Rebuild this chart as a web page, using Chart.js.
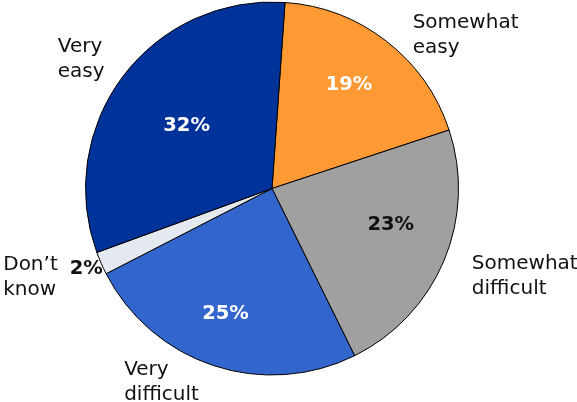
<!DOCTYPE html>
<html>
<head>
<meta charset="utf-8">
<script src="https://cdn.jsdelivr.net/npm/chart.js@4"></script>
<style>
  html, body { margin: 0; padding: 0; background: #fff; }
  #wrap { width: 577px; height: 402px; position: relative; }
</style>
</head>
<body>
<div id="wrap"><canvas id="pie"></canvas></div>
<script>
// data, clockwise from the top
const categories = ["Somewhat easy", "Somewhat difficult", "Very difficult", "Don\u2019t know", "Very easy"];
const labelLines = [["Somewhat", "easy"], ["Somewhat", "difficult"], ["Very", "difficult"], ["Don\u2019t", "know"], ["Very", "easy"]];
const shares = [19, 23, 25, 2, 32];

const sliceColors = ["#FF9933", "#A0A0A0", "#3366CC", "#E4E9F0", "#003399"];
const pctColors = ["#ffffff", "#111111", "#ffffff", "#111111", "#ffffff"];

// label layout tweaks, like dragging labels by hand in the original
const labelStyle = {
    pctRadius: [0.69, 0.65, 0.71, 0, 0.58], // 0 = put it outside
    pctNudge: [[-2, -2], [7, -10], [-5, 0], [-2, 0], [1, 2]],
    nameNudge: [[9, 8], [2, 9], [-6, 0], [-3, -2], [4, -6]]
};

// draws the percentages and the category names around the pie
const sliceLabels = {
    id: "sliceLabels",
    afterDatasetsDraw(chart) {
        const ctx = chart.ctx;
        const arcs = chart.getDatasetMeta(0).data;
        ctx.save();
        ctx.textBaseline = "middle";
        arcs.forEach((arc, i) => {
            const { x, y, startAngle, endAngle, outerRadius } = arc.getProps(["x", "y", "startAngle", "endAngle", "outerRadius"], true);
            const mid = (startAngle + endAngle) / 2;
            const cos = Math.cos(mid), sin = Math.sin(mid);
            const pct = shares[i] + "%";
            const pr = labelStyle.pctRadius[i];
            const [pdx, pdy] = labelStyle.pctNudge[i];
            const [ndx, ndy] = labelStyle.nameNudge[i];

            ctx.font = "bold 19.5px 'DejaVu Sans'";
            ctx.fillStyle = pctColors[i];
            ctx.textAlign = "center";
            let outside = null;
            if (pr > 0) {
                ctx.fillText(pct, x + cos * outerRadius * pr + pdx, y + sin * outerRadius * pr + pdy);
            } else {
                const px = x + cos * (outerRadius + 14) + pdx, py = y + sin * (outerRadius + 14) + pdy;
                ctx.fillText(pct, px, py);
                outside = { x: px - ctx.measureText(pct).width / 2 - 9, y: py + 10 };
            }

            // category name, left aligned block beside the slice
            ctx.font = "20px 'DejaVu Sans'";
            ctx.fillStyle = "#111111";
            ctx.textAlign = "left";
            const lines = labelLines[i];
            const w = Math.max(...lines.map(l => ctx.measureText(l).width));
            const lh = 25;
            let left, cy;
            if (outside) {
                left = outside.x - w;
                cy = outside.y;
            } else {
                const ax = x + cos * (outerRadius + 28);
                cy = y + sin * (outerRadius + 18);
                left = cos >= 0 ? ax : ax - w;
            }
            left += ndx;
            cy += ndy;
            const top = cy - lh * (lines.length - 1) / 2;
            lines.forEach((l, k) => ctx.fillText(l, left, top + k * lh));
        });
        ctx.restore();
    }
};

new Chart(document.getElementById("pie"), {
    type: "pie",
    data: {
        labels: categories,
        datasets: [{
            data: shares,
            backgroundColor: sliceColors,
            borderColor: "#000000",
            borderWidth: 1
        }]
    },
    options: {
        responsive: true,
        maintainAspectRatio: false,
        animation: false,
        rotation: 4,
        layout: { padding: { left: 85, right: 118, top: 1, bottom: 26 } },
        plugins: {
            legend: { display: false },
            tooltip: { enabled: false }
        }
    },
    plugins: [sliceLabels]
});
</script>
</body>
</html>
